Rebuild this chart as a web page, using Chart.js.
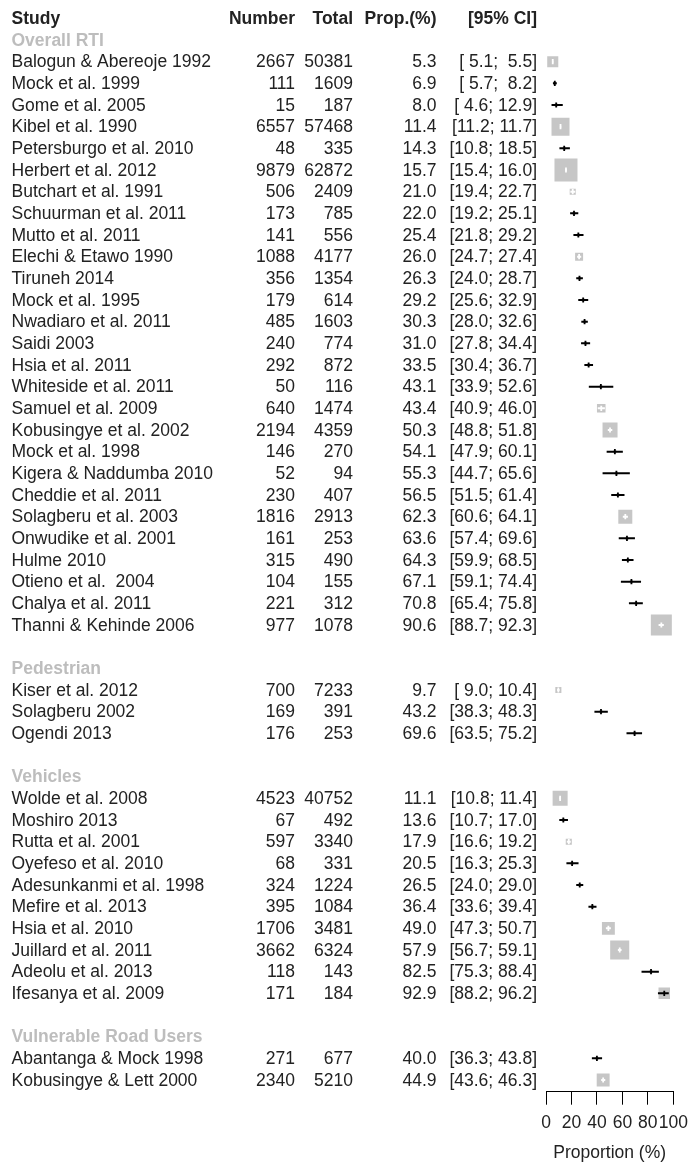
<!DOCTYPE html>
<html>
<head>
<meta charset="utf-8">
<title>Forest plot</title>
<script src="https://cdn.jsdelivr.net/npm/chart.js@4/dist/chart.umd.min.js"></script>
<style>
  html, body { margin: 0; padding: 0; background: #fff; }
  canvas { display: block; }
</style>
</head>
<body>
<canvas id="forest" width="690" height="1165"></canvas>
<script>
// ---- data ----
const groups = ['Overall RTI', 'Pedestrian', 'Vehicles', 'Vulnerable Road Users'];
const groupSizes = [27, 3, 10, 2];

const studies = [
  'Balogun & Abereoje 1992', 'Mock et al. 1999', 'Gome et al. 2005', 'Kibel et al. 1990',
  'Petersburgo et al. 2010', 'Herbert et al. 2012', 'Butchart et al. 1991', 'Schuurman et al. 2011',
  'Mutto et al. 2011', 'Elechi & Etawo 1990', 'Tiruneh 2014', 'Mock et al. 1995',
  'Nwadiaro et al. 2011', 'Saidi 2003', 'Hsia et al. 2011', 'Whiteside et al. 2011',
  'Samuel et al. 2009', 'Kobusingye et al. 2002', 'Mock et al. 1998', 'Kigera & Naddumba 2010',
  'Cheddie et al. 2011', 'Solagberu et al. 2003', 'Onwudike et al. 2001', 'Hulme 2010',
  'Otieno et al.  2004', 'Chalya et al. 2011', 'Thanni & Kehinde 2006',
  'Kiser et al. 2012', 'Solagberu 2002', 'Ogendi 2013',
  'Wolde et al. 2008', 'Moshiro 2013', 'Rutta et al. 2001', 'Oyefeso et al. 2010',
  'Adesunkanmi et al. 1998', 'Mefire et al. 2013', 'Hsia et al. 2010', 'Juillard et al. 2011',
  'Adeolu et al. 2013', 'Ifesanya et al. 2009',
  'Abantanga & Mock 1998', 'Kobusingye & Lett 2000'
];

const events = [
  2667, 111, 15, 6557, 48, 9879, 506, 173, 141, 1088, 356, 179, 485, 240, 292, 50, 640, 2194,
  146, 52, 230, 1816, 161, 315, 104, 221, 977,
  700, 169, 176,
  4523, 67, 597, 68, 324, 395, 1706, 3662, 118, 171,
  271, 2340
];

const totals = [
  50381, 1609, 187, 57468, 335, 62872, 2409, 785, 556, 4177, 1354, 614, 1603, 774, 872, 116, 1474, 4359,
  270, 94, 407, 2913, 253, 490, 155, 312, 1078,
  7233, 391, 253,
  40752, 492, 3340, 331, 1224, 1084, 3481, 6324, 143, 184,
  677, 5210
];

const proportions = [
  5.3, 6.9, 8.0, 11.4, 14.3, 15.7, 21.0, 22.0, 25.4, 26.0, 26.3, 29.2, 30.3, 31.0, 33.5, 43.1, 43.4, 50.3,
  54.1, 55.3, 56.5, 62.3, 63.6, 64.3, 67.1, 70.8, 90.6,
  9.7, 43.2, 69.6,
  11.1, 13.6, 17.9, 20.5, 26.5, 36.4, 49.0, 57.9, 82.5, 92.9,
  40.0, 44.9
];

const ciLower = [
  5.1, 5.7, 4.6, 11.2, 10.8, 15.4, 19.4, 19.2, 21.8, 24.7, 24.0, 25.6, 28.0, 27.8, 30.4, 33.9, 40.9, 48.8,
  47.9, 44.7, 51.5, 60.6, 57.4, 59.9, 59.1, 65.4, 88.7,
  9.0, 38.3, 63.5,
  10.8, 10.7, 16.6, 16.3, 24.0, 33.6, 47.3, 56.7, 75.3, 88.2,
  36.3, 43.6
];

const ciUpper = [
  5.5, 8.2, 12.9, 11.7, 18.5, 16.0, 22.7, 25.1, 29.2, 27.4, 28.7, 32.9, 32.6, 34.4, 36.7, 52.6, 46.0, 51.8,
  60.1, 65.6, 61.4, 64.1, 69.6, 68.5, 74.4, 75.8, 92.3,
  10.4, 48.3, 75.2,
  11.4, 17.0, 19.2, 25.3, 29.0, 39.4, 50.7, 59.1, 88.4, 96.2,
  43.8, 46.3
];

// study weights (%), shown by the area of each square
const weightPct = [
  2.5, 0.2, 0.2, 6.6, 0.2, 10.8, 0.75, 0.2, 0.2, 1.3, 0.2, 0.2, 0.2, 0.2, 0.2, 0.2, 1.5, 4.6,
  0.2, 0.2, 0.2, 4.0, 0.2, 0.2, 0.2, 0.2, 9.0,
  0.75, 0.2, 0.2,
  4.6, 0.2, 0.75, 0.2, 0.2, 0.2, 3.4, 7.4, 0.2, 2.7,
  0.2, 3.4
];

const columnHeaders = ['Study', 'Number', 'Total', 'Prop.(%)', '[95% CI]'];
const axisTicks = [0, 20, 40, 60, 80, 100];
const axisTitle = 'Proportion (%)';

// ---- row layout: header row, then each group heading followed by its studies ----
const studyRow = [];
const headingRow = [];
(function () {
  let row = 1, k = 0;
  groups.forEach((g, gi) => {
    if (gi > 0) row++;                 // blank line between groups
    headingRow.push(row++);
    for (let j = 0; j < groupSizes[gi]; j++) studyRow[k++] = row++;
  });
})();
const lastRow = studyRow[studyRow.length - 1];

// ---- styling ----
const FONT = '"Liberation Sans", Arial, Helvetica, sans-serif';
const FS = 17.5;
const TEXT = '#222222';
const HEADING = '#bdbdbd';
const SQUARE = '#c6c6c6';
const SQUARE_SCALE = 7;   // px of square side per sqrt(weight %)
const squareSide = weightPct.map(w => SQUARE_SCALE * Math.sqrt(w));

// column anchors (x in px)
const COL = { name: 11.5, number: 295, total: 353, prop: 436.5, ci: 537 };

const fmtCI = (lo, hi) => '[' + lo.toFixed(1).padStart(4, ' ') + '; ' + hi.toFixed(1).padStart(4, ' ') + ']';

// CI line is drawn white when it fits inside its square, black otherwise
function ciColour(ctx) {
  const i = ctx.dataIndex;
  const xs = ctx.chart.scales.x;
  if (!xs) return '#000';
  const w = xs.getPixelForValue(ciUpper[i]) - xs.getPixelForValue(ciLower[i]);
  return w < squareSide[i] - 1.5 ? '#ffffff' : '#000000';
}

const points = proportions.map((p, i) => ({ x: p, y: studyRow[i] }));

// text columns of the table, placed on the chart's own y scale
const tableText = {
  id: 'tableText',
  afterDraw(chart) {
    const ctx = chart.ctx;
    const ys = chart.scales.y;
    const base = r => ys.getPixelForValue(r) + 5.5;
    ctx.save();
    ctx.textBaseline = 'alphabetic';

    // header
    ctx.font = `bold ${FS}px ${FONT}`;
    ctx.fillStyle = TEXT;
    const hy = base(0);
    ctx.textAlign = 'left';
    ctx.fillText(columnHeaders[0], COL.name, hy);
    ctx.textAlign = 'right';
    ctx.fillText(columnHeaders[1], COL.number, hy);
    ctx.fillText(columnHeaders[2], COL.total, hy);
    ctx.fillText(columnHeaders[3], COL.prop, hy);
    ctx.fillText(columnHeaders[4], COL.ci, hy);

    // group headings
    ctx.fillStyle = HEADING;
    ctx.textAlign = 'left';
    groups.forEach((g, gi) => ctx.fillText(g, COL.name, base(headingRow[gi])));

    // study rows
    ctx.font = `${FS}px ${FONT}`;
    ctx.fillStyle = TEXT;
    studies.forEach((s, i) => {
      const y = base(studyRow[i]);
      ctx.textAlign = 'left';
      ctx.fillText(s, COL.name, y);
      ctx.textAlign = 'right';
      ctx.fillText(String(events[i]), COL.number, y);
      ctx.fillText(String(totals[i]), COL.total, y);
      ctx.fillText(proportions[i].toFixed(1), COL.prop, y);
      ctx.fillText(fmtCI(ciLower[i], ciUpper[i]), COL.ci, y);
    });
    ctx.restore();
  }
};

new Chart(document.getElementById('forest'), {
  type: 'scatter',
  data: {
    datasets: [
      {
        // study squares
        type: 'scatter',
        data: points,
        pointStyle: 'rect',
        pointRadius: squareSide.map(s => s / Math.SQRT2),
        backgroundColor: SQUARE,
        borderWidth: 0,
        order: 3
      },
      {
        // confidence intervals
        type: 'bar',
        indexAxis: 'y',
        data: ciLower.map((lo, i) => ({ x: [lo, ciUpper[i]], y: studyRow[i] })),
        backgroundColor: ciColour,
        borderWidth: 0,
        barThickness: 1.4,
        order: 2
      },
      {
        // point estimates
        type: 'scatter',
        data: points,
        pointStyle: 'line',
        rotation: 90,
        pointRadius: 2.6,
        borderWidth: 1.8,
        borderColor: ciColour,
        order: 1
      }
    ]
  },
  options: {
    responsive: false,
    animation: false,
    devicePixelRatio: 1,
    layout: { autoPadding: false, padding: { left: 546, right: 16.7, top: 7.5, bottom: 0 } },
    plugins: {
      legend: { display: false },
      tooltip: { enabled: false },
      title: { display: false }
    },
    scales: {
      x: {
        type: 'linear',
        position: 'bottom',
        min: 0,
        max: 100,
        offset: false,
        afterBuildTicks: s => { s.ticks = axisTicks.map(v => ({ value: v })); },
        afterFit: s => { s.height = 73.3; s.paddingLeft = 0; s.paddingRight = 0; },
        grid: { drawOnChartArea: false, drawTicks: true, tickLength: 13, color: '#000', lineWidth: 1, offset: false },
        border: { display: true, color: '#000', width: 1 },
        ticks: {
          color: TEXT,
          font: { family: FONT, size: FS },
          padding: 8,
          maxRotation: 0,
          minRotation: 0,
          autoSkip: false
        },
        title: {
          display: true,
          text: axisTitle,
          color: TEXT,
          font: { family: FONT, size: FS },
          padding: { top: 0, bottom: 1.5 }
        }
      },
      y: {
        type: 'linear',
        display: false,
        reverse: true,
        offset: false,
        min: -0.5,
        max: lastRow + 0.54
      }
    }
  },
  plugins: [tableText]
});
</script>
</body>
</html>
